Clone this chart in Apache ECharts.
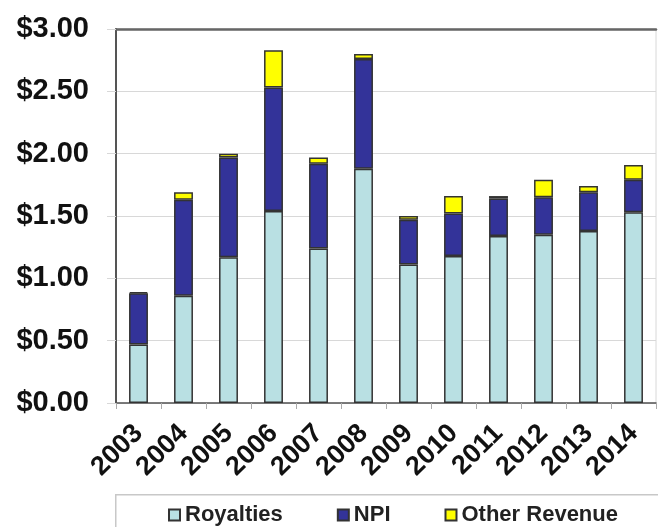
<!DOCTYPE html>
<html><head><meta charset="utf-8">
<script src="https://cdn.jsdelivr.net/npm/echarts@6/dist/echarts.min.js"></script>
<style>html,body{margin:0;padding:0;background:#fff}#c{width:658px;height:527px}</style>
</head><body><div id="c"></div>
<script>
var years = ['2003','2004','2005','2006','2007','2008','2009','2010','2011','2012','2013','2014'];
var royalties = [0.47, 0.86, 1.17, 1.54, 1.24, 1.88, 1.11, 1.18, 1.34, 1.35, 1.38, 1.53];
var npi = [0.41, 0.77, 0.80, 0.99, 0.68, 0.88, 0.36, 0.34, 0.30, 0.30, 0.31, 0.26];
var other = [0.01, 0.06, 0.03, 0.30, 0.05, 0.04, 0.03, 0.14, 0.02, 0.14, 0.05, 0.12];
var seriesNames = ['Royalties', 'NPI', 'Other Revenue'];
var colors = ['#b9e0e3', '#333399', '#ffff00'];

var FONT = "'Liberation Sans', Arial, sans-serif";
var chart = echarts.init(document.getElementById('c'));
function bar(name, data, color) {
  return {
    name: name, type: 'bar', stack: 'rev', data: data, barWidth: '42%',
    itemStyle: { color: color, borderColor: '#333', borderWidth: 1.5 }
  };
}
chart.setOption({
  animation: false,
  backgroundColor: '#fff',
  graphic: [{
    type: 'rect', left: 115, top: 494, shape: { width: 560, height: 50 },
    style: { fill: '#fff', stroke: '#c8c8c8', lineWidth: 1.5 }, z: 0
  }],
  legend: {
    left: 163, top: 499, itemGap: 54, itemWidth: 11, itemHeight: 11,
    icon: 'rect',
    textStyle: { fontFamily: FONT, fontWeight: 'bold', fontSize: 22, color: '#222' },
    data: seriesNames
  },
  grid: { left: 116, top: 29, right: 2, bottom: 124, show: true, borderColor: '#d8d8d8', borderWidth: 1 },
  xAxis: [{
    type: 'category', data: years, boundaryGap: true,
    axisLine: { lineStyle: { color: '#555', width: 1.5 } },
    axisTick: { show: true, length: 6, lineStyle: { color: '#aaa' } },
    axisLabel: { interval: 0, rotate: 45, margin: 26, fontFamily: FONT, fontWeight: 'bold', fontSize: 27, color: '#111' }
  }, {
    type: 'category', data: years, position: 'top',
    axisLine: { show: true, lineStyle: { color: '#666', width: 2.5 } },
    axisTick: { show: false }, axisLabel: { show: false }
  }],
  yAxis: {
    type: 'value', min: 0, max: 3, interval: 0.5,
    axisLine: { show: true, lineStyle: { color: '#555', width: 2 } },
    axisTick: { show: true, length: 9, lineStyle: { color: '#d8d8d8' } },
    splitLine: { lineStyle: { color: '#d8d8d8', width: 1 } },
    axisLabel: {
      margin: 27, fontFamily: FONT, fontWeight: 'bold', fontSize: 29, color: '#111',
      formatter: function (v) { return '$' + v.toFixed(2); }
    }
  },
  series: [
    bar(seriesNames[0], royalties, colors[0]),
    bar(seriesNames[1], npi, colors[1]),
    bar(seriesNames[2], other, colors[2])
  ]
});
</script></body></html>
